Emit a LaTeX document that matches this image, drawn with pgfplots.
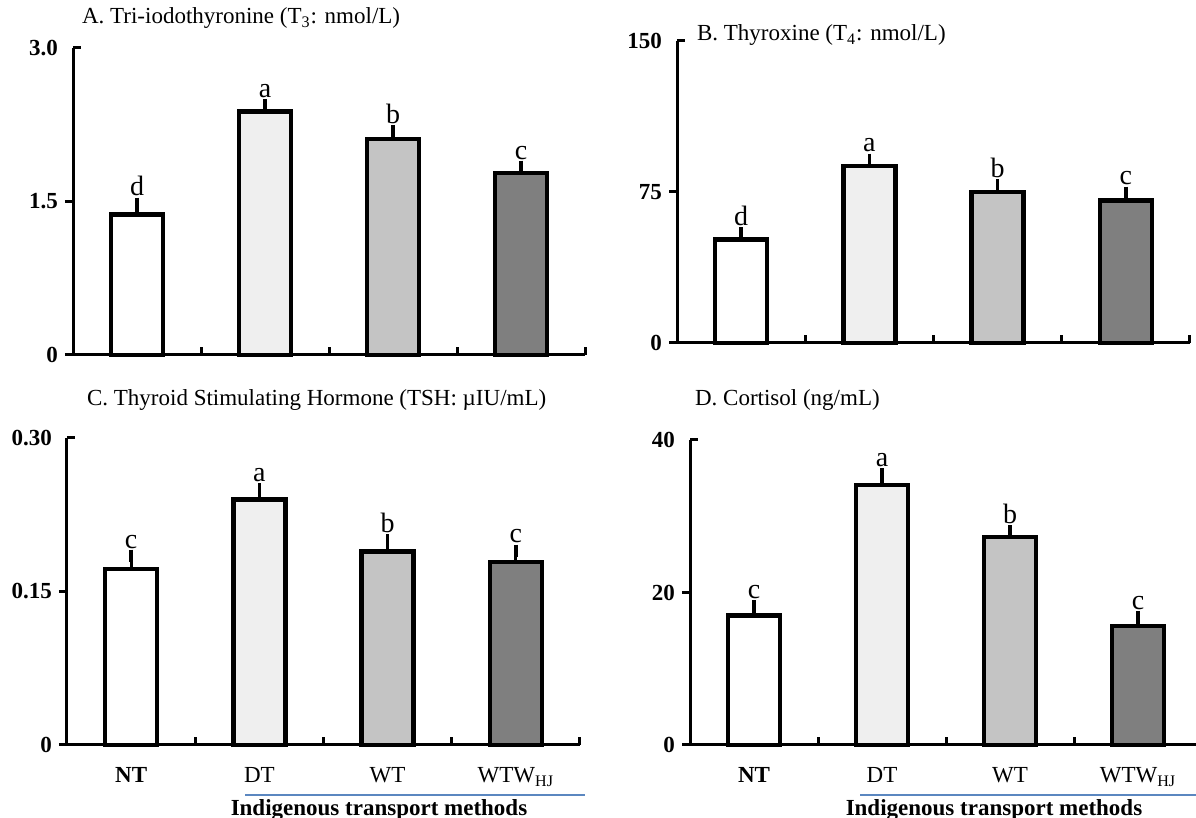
\documentclass[border=0pt]{standalone}
\usepackage{pgfplots}
\pgfplotsset{compat=1.18}
\usepackage{fontspec}
\setmainfont{Liberation Serif}
\definecolor{c1}{HTML}{FFFFFF}
\definecolor{c2}{HTML}{EFEFEF}
\definecolor{c3}{HTML}{C4C4C4}
\definecolor{c4}{HTML}{7F7F7F}
\definecolor{blueline}{HTML}{5B87C0}
\newcommand{\fs}[1]{\fontsize{#1}{#1}\selectfont}
\tikzset{
  lett/.style={anchor=south, font=\fs{14}, inner sep=1.5pt, yshift=2pt},
  cat/.style={anchor=base, font=\fs{11.5}, yshift=-19pt},
}
\pgfplotsset{
  panel/.style={
    scale only axis, axis lines=left, axis line style={-, line width=1.5pt},
    xmin=-0.5, xmax=3.5, ymin=0, clip=false,
    xtick={0.5,1.5,2.5,3.5}, xticklabels={},
    tick align=outside, major tick length=4pt,
    tick style={line width=1.5pt, black},
    xtick style={yshift=4pt},
    yticklabel style={font=\bfseries\fs{11.5}},
    extra y tick style={tick style={xshift=4pt}},
    /pgf/number format/assume math mode=true,
    ybar, bar width=26pt, bar shift=0pt,
    every axis plot/.append style={draw=black, line width=2.3pt},
    error bars/y dir=plus, error bars/y explicit,
    error bars/error bar style={line width=1.6pt, black},
    error bars/error mark options={line width=1.8pt, mark size=3pt, black},
  },
}
\begin{document}
\begin{tikzpicture}
\useasboundingbox (0,0) rectangle (598pt,409pt);
% Panel A
\begin{axis}[panel, at={(36.5pt,231.5pt)}, anchor=south west,
  width=256pt, height=153.5pt, ymax=3.0,
  ytick={0,1.5}, yticklabels={0,1.5}, extra y ticks={3.0}, extra y tick labels={3.0}]
\addplot[fill=c1] coordinates {(0,1.37) +- (0,0.11)};
\addplot[fill=c2] coordinates {(1,2.38) +- (0,0.06)};
\addplot[fill=c3] coordinates {(2,2.11) +- (0,0.08)};
\addplot[fill=c4] coordinates {(3,1.78) +- (0,0.06)};
\node[lett] at (axis cs:0,1.48) {d};
\node[lett] at (axis cs:1,2.44) {a};
\node[lett] at (axis cs:2,2.19) {b};
\node[lett] at (axis cs:3,1.84) {c};
\end{axis}
% Panel B
\begin{axis}[panel, at={(338.5pt,237.5pt)}, anchor=south west,
  width=256.5pt, height=151pt, ymax=150,
  ytick={0,75}, yticklabels={0,75}, extra y ticks={150}, extra y tick labels={150}]
\addplot[fill=c1] coordinates {(0,51.4) +- (0,3.2)};
\addplot[fill=c2] coordinates {(1,88.0) +- (0,3.1)};
\addplot[fill=c3] coordinates {(2,75.0) +- (0,3.3)};
\addplot[fill=c4] coordinates {(3,70.9) +- (0,3.8)};
\node[lett] at (axis cs:0,54.6) {d};
\node[lett] at (axis cs:1,91.1) {a};
\node[lett] at (axis cs:2,78.3) {b};
\node[lett] at (axis cs:3,74.7) {c};
\end{axis}
% Panel C
\begin{axis}[panel, at={(33.5pt,36.5pt)}, anchor=south west,
  width=256.5pt, height=153.5pt, ymax=0.30,
  ytick={0,0.15}, yticklabels={0,0.15}, extra y ticks={0.30}, extra y tick labels={0.30}]
\addplot[fill=c1] coordinates {(0,0.172) +- (0,0.013)};
\addplot[fill=c2] coordinates {(1,0.240) +- (0,0.010)};
\addplot[fill=c3] coordinates {(2,0.189) +- (0,0.011)};
\addplot[fill=c4] coordinates {(3,0.179) +- (0,0.011)};
\node[lett] at (axis cs:0,0.185) {c};
\node[lett] at (axis cs:1,0.250) {a};
\node[lett] at (axis cs:2,0.200) {b};
\node[lett] at (axis cs:3,0.190) {c};
\node[cat] at (axis cs:0,0) {\bfseries NT};
\node[cat] at (axis cs:1,0) {DT};
\node[cat] at (axis cs:2,0) {WT};
\node[cat] at (axis cs:3,0) {WTW\textsubscript{HJ}};
\end{axis}
% Panel D
\begin{axis}[panel, at={(345pt,36.5pt)}, anchor=south west,
  width=256pt, height=152.5pt, ymax=40,
  ytick={0,20}, yticklabels={0,20}, extra y ticks={40}, extra y tick labels={40}]
\addplot[fill=c1] coordinates {(0,17.0) +- (0,1.2)};
\addplot[fill=c2] coordinates {(1,34.1) +- (0,1.4)};
\addplot[fill=c3] coordinates {(2,27.3) +- (0,0.7)};
\addplot[fill=c4] coordinates {(3,15.6) +- (0,1.2)};
\node[lett] at (axis cs:0,18.2) {c};
\node[lett] at (axis cs:1,35.5) {a};
\node[lett] at (axis cs:2,28.0) {b};
\node[lett] at (axis cs:3,16.8) {c};
\node[cat] at (axis cs:0,0) {\bfseries NT};
\node[cat] at (axis cs:1,0) {DT};
\node[cat] at (axis cs:2,0) {WT};
\node[cat] at (axis cs:3,0) {WTW\textsubscript{HJ}};
\end{axis}
% Titles
\node[anchor=west, font=\fs{11.5}] at (37.5pt,400pt) {A. Tri-iodothyronine (T\textsubscript{3}: nmol/L)};
\node[anchor=west, font=\fs{11.5}] at (345pt,391.5pt) {B. Thyroxine (T\textsubscript{4}: nmol/L)};
\node[anchor=west, font=\fs{11.5}] at (40pt,209pt) {C. Thyroid Stimulating Hormone (TSH: µIU/mL)};
\node[anchor=west, font=\fs{11.5}] at (344pt,209pt) {D. Cortisol (ng/mL)};
% group lines and labels
\draw[blueline, line width=1pt] (122.5pt,11.5pt) -- (292.5pt,11.5pt);
\draw[blueline, line width=1pt] (430pt,11.5pt) -- (598pt,11.5pt);
\node[font=\bfseries\fs{11.5}] at (189.5pt,4pt) {Indigenous transport methods};
\node[font=\bfseries\fs{11.5}] at (497pt,4pt) {Indigenous transport methods};
\end{tikzpicture}
\end{document}
